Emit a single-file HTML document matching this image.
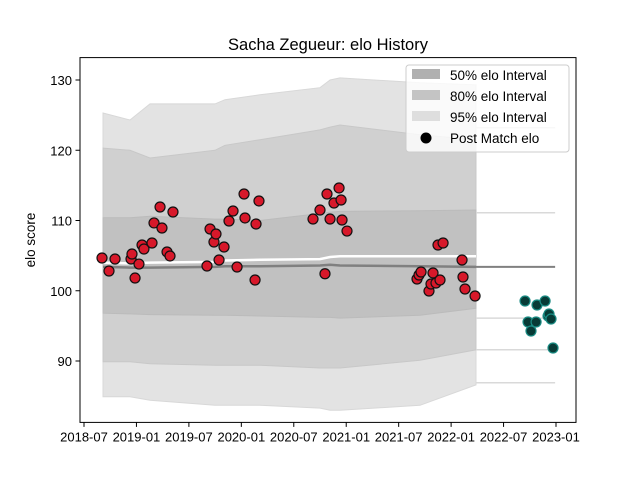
<!DOCTYPE html>
<html><head><meta charset="utf-8"><style>
html,body{margin:0;padding:0;background:#fff}
svg{display:block;font-family:"Liberation Sans","DejaVu Sans",sans-serif}
</style></head><body>
<svg id="chart" width="640" height="480" viewBox="0 0 640 480">
<rect width="640" height="480" fill="#fff"/>
<text x="328" y="50" font-size="16.5" text-anchor="middle" fill="#000">Sacha Zegueur: elo History</text>
<g id="plot"></g>
<text transform="translate(35,240) rotate(-90)" font-size="13.5" text-anchor="middle">elo score</text>
<g id="legend">
<rect x="406" y="65" width="163" height="87" rx="3" fill="#fff" fill-opacity="0.8" stroke="#ccc"/>
<rect x="412" y="69" width="28" height="10" fill="#b0b0b0"/>
<text x="450" y="80" font-size="13.5">50% elo Interval</text>
<rect x="412" y="90" width="28" height="10" fill="#c4c4c4"/>
<text x="450" y="101" font-size="13.5">80% elo Interval</text>
<rect x="412" y="111" width="28" height="10" fill="#dedede"/>
<text x="450" y="122" font-size="13.5">95% elo Interval</text>
<circle cx="426" cy="138" r="5.5" fill="#000"/>
<text x="450" y="143" font-size="13.5">Post Match elo</text>
</g>
</svg>
<script>
// x in months since 2018-07
const xTickLabels = ["2018-07","2019-01","2019-07","2020-01","2020-07","2021-01","2021-07","2022-01","2022-07","2023-01"];
const xTickMonths = [0,6,12,18,24,30,36,42,48,54];
const yTicks = [90,100,110,120,130];
const bandMonths = [2.17,5.26,7.55,14.99,16.13,20.14,27.0,28.15,29.29,38.44,44.85];
const band95Hi = [125.3,124.3,126.6,126.6,127.2,127.9,128.9,130.0,130.3,129.6,129.3];
const band95Lo = [84.9,84.9,84.4,83.7,83.7,83.7,83.3,83.0,83.0,83.7,86.6];
const band80Hi = [120.3,120.0,118.9,120.0,120.7,121.5,122.9,123.3,123.6,122.2,121.5];
const band80Lo = [89.9,89.9,89.6,89.4,89.4,89.4,89.0,89.0,89.0,90.1,91.6];
const band50Hi = [110.4,110.4,110.6,110.2,110.2,110.0,111.0,111.2,111.3,111.4,111.5];
const band50Lo = [96.8,96.7,96.6,96.5,96.5,96.4,96.2,96.2,96.1,96.5,97.5];
const meanLine = [103.4,103.3,103.3,103.4,103.5,103.5,103.6,103.7,103.6,103.5,103.4];
const whiteLine = [104.0,103.9,104.0,104.1,104.3,104.4,104.5,104.8,104.9,104.9,104.9];
const tailMonths = [44.85,53.9];
const tailLevels = [123.2,111.1,103.4,96.1,91.6,86.9];
const redMonths = [2.06,2.86,3.55,5.38,5.49,5.84,6.29,6.64,6.86,7.78,8.01,8.70,8.92,9.50,9.84,10.18,14.07,14.42,14.87,15.10,15.45,16.02,16.59,17.05,17.51,18.31,18.42,19.57,19.68,20.02,26.20,27.00,27.57,27.80,28.15,28.60,29.18,29.41,29.52,30.09,38.10,38.33,38.56,39.47,39.70,39.93,40.27,40.73,40.50,41.08,43.25,43.36,43.59,44.74];
const redElo = [104.66,102.81,104.52,104.52,105.23,101.81,103.8,106.51,105.94,106.80,109.65,111.92,108.93,105.52,104.95,111.21,103.52,108.79,106.94,108.08,104.38,106.23,109.93,111.35,103.38,113.77,110.36,101.53,109.50,112.78,110.21,111.49,102.42,113.77,110.21,112.49,114.63,112.92,110.07,108.50,101.67,102.24,102.67,99.96,100.96,102.53,101.1,101.53,106.51,106.80,104.38,101.96,100.25,99.25];
const tealMonths = [50.46,50.80,51.14,51.72,51.83,52.75,53.09,53.20,53.43,53.66];
const tealElo = [98.54,95.55,94.27,95.55,97.97,98.54,96.40,96.69,95.98,91.85];

const L=80,R=576,T=57.6,B=422.4;
const X = m => 84 + m*(472/54);
const Y = v => 290.75 - (v-100)*7.025;
const NS="http://www.w3.org/2000/svg";
const plot=document.getElementById('plot');
function mk(tag,attrs,parent){const e=document.createElementNS(NS,tag);for(const k in attrs)e.setAttribute(k,attrs[k]);(parent||plot).appendChild(e);return e;}
function bandPath(hi,lo){let p=bandMonths.map((m,i)=>(i?'L':'M')+X(m).toFixed(1)+','+Y(hi[i]).toFixed(1)).join('');
 for(let i=bandMonths.length-1;i>=0;i--)p+='L'+X(bandMonths[i]).toFixed(1)+','+Y(lo[i]).toFixed(1);return p+'Z';}
let e;
e=mk('path',{d:bandPath(band95Hi,band95Lo),fill:'#e3e3e3',stroke:'#d8d8d8'});


e=mk('path',{d:bandPath(band80Hi,band80Lo),fill:'#d0d0d0',stroke:'#c8c8c8'});


e=mk('path',{d:bandPath(band50Hi,band50Lo),fill:'#c1c1c1',stroke:'#bbb'});


tailLevels.forEach((v,i)=>{
 e=mk('line',{x1:X(tailMonths[0]),x2:X(tailMonths[1]),y1:Y(v),y2:Y(v),stroke:i==2?'#808080':'#d9d9d9','stroke-width':i==2?2:1.5});
 
 
});
function line(vals,stroke,w,name){
 e=mk('polyline',{points:bandMonths.map((m,i)=>X(m).toFixed(1)+','+Y(vals[i]).toFixed(1)).join(' '),fill:'none',stroke:stroke,'stroke-width':w});
 
 
}
line(whiteLine,'#fff',2.5,'upper-mean-line');
line(meanLine,'#808080',2.5,'mean-line');
redMonths.forEach((m,i)=>{
 e=mk('circle',{cx:X(m),cy:Y(redElo[i]),r:5,fill:'#d7182a',stroke:'#111','stroke-width':1.2});
 
 
});
tealMonths.forEach((m,i)=>{
 e=mk('circle',{cx:X(m),cy:Y(tealElo[i]),r:5,fill:'#073b36',stroke:'#1a8c84','stroke-width':1.2});
 
 
});
e=mk('rect',{x:L,y:T,width:R-L,height:B-T,fill:'none',stroke:'#000','stroke-width':1});


xTickMonths.forEach((m,i)=>{
 e=mk('line',{x1:X(m),x2:X(m),y1:B,y2:B+4.5,stroke:'#000'});
 
 
 e=mk('text',{x:X(m),y:B+19,'font-size':13,'text-anchor':'middle'});
 e.textContent=xTickLabels[i];
 
 
});
yTicks.forEach(v=>{
 e=mk('line',{x1:L-4.5,x2:L,y1:Y(v),y2:Y(v),stroke:'#000'});
 
 
 e=mk('text',{x:L-8,y:Y(v)+5,'font-size':13,'text-anchor':'end'});
 e.textContent=v;
 
 
});
</script>
</body></html>
